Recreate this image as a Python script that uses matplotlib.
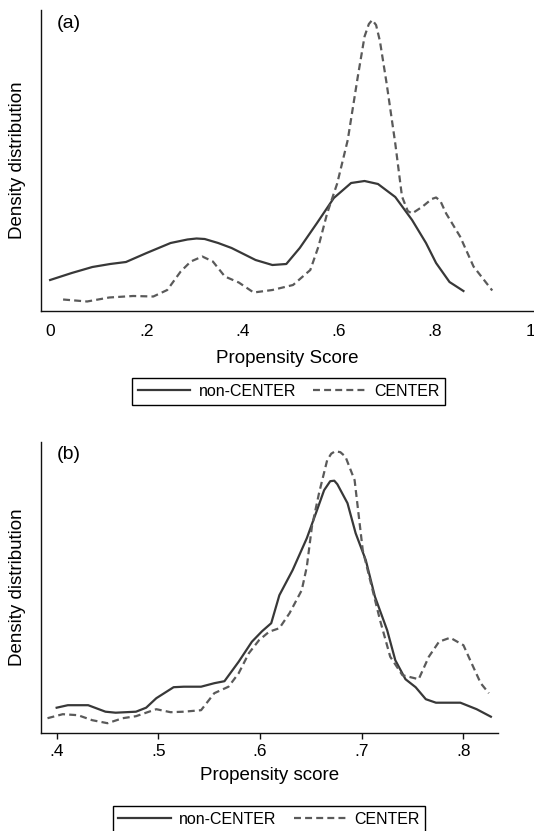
import matplotlib
matplotlib.use("Agg")
import matplotlib.pyplot as plt

plt.rcParams['font.family'] = ['Liberation Sans', 'DejaVu Sans']
plt.rcParams['lines.scale_dashes'] = False

# ---- Panel (a) data: kernel density of propensity score ----
a_non_x = [0.000, 0.045, 0.088, 0.125, 0.158, 0.201, 0.251, 0.286, 0.305, 0.322,
           0.350, 0.378, 0.428, 0.463, 0.492, 0.520, 0.556, 0.591, 0.627, 0.655,
           0.683, 0.719, 0.754, 0.783, 0.804, 0.832, 0.861]
a_non_y = [0.62, 0.76, 0.88, 0.94, 0.98, 1.16, 1.36, 1.43, 1.45, 1.44,
           1.36, 1.26, 1.02, 0.92, 0.94, 1.26, 1.76, 2.26, 2.56, 2.60,
           2.54, 2.28, 1.82, 1.36, 0.96, 0.58, 0.40]
a_cen_x = [0.027, 0.077, 0.123, 0.173, 0.215, 0.244, 0.272, 0.293, 0.317, 0.339,
           0.364, 0.393, 0.424, 0.463, 0.506, 0.542, 0.559, 0.577, 0.598, 0.620,
           0.641, 0.655, 0.664, 0.671, 0.679, 0.687, 0.701, 0.719, 0.733, 0.745,
           0.754, 0.776, 0.795, 0.804, 0.813, 0.825, 0.854, 0.882, 0.921]
a_cen_y = [0.23, 0.19, 0.27, 0.30, 0.29, 0.42, 0.79, 0.99, 1.09, 0.99,
           0.69, 0.57, 0.37, 0.42, 0.52, 0.82, 1.29, 1.95, 2.55, 3.42,
           4.69, 5.49, 5.74, 5.82, 5.72, 5.40, 4.55, 3.35, 2.29, 2.00,
           1.95, 2.09, 2.24, 2.27, 2.20, 1.95, 1.49, 0.89, 0.41]
a_ticks = [0, 0.2, 0.4, 0.6, 0.8, 1.0]
a_ticklabels = ['0', '.2', '.4', '.6', '.8', '1']

# ---- Panel (b) data ----
b_non_x = [0.400, 0.411, 0.431, 0.448, 0.458, 0.478, 0.488, 0.498, 0.515, 0.525,
           0.542, 0.555, 0.565, 0.579, 0.592, 0.602, 0.611, 0.619, 0.632, 0.646,
           0.656, 0.663, 0.669, 0.673, 0.676, 0.686, 0.694, 0.704, 0.713, 0.725,
           0.733, 0.743, 0.753, 0.763, 0.773, 0.797, 0.813, 0.827]
b_non_y = [0.50, 0.55, 0.55, 0.42, 0.40, 0.42, 0.50, 0.69, 0.91, 0.92,
           0.92, 0.99, 1.03, 1.42, 1.82, 2.03, 2.19, 2.75, 3.25, 3.89,
           4.45, 4.85, 5.03, 5.04, 4.97, 4.59, 3.99, 3.45, 2.72, 2.05,
           1.45, 1.07, 0.91, 0.67, 0.60, 0.60, 0.47, 0.32]
b_cen_x = [0.391, 0.406, 0.421, 0.435, 0.450, 0.465, 0.478, 0.498, 0.512, 0.525,
           0.542, 0.555, 0.569, 0.579, 0.589, 0.599, 0.609, 0.619, 0.629, 0.641,
           0.646, 0.651, 0.658, 0.666, 0.670, 0.674, 0.679, 0.684, 0.693, 0.701,
           0.709, 0.718, 0.728, 0.740, 0.756, 0.766, 0.776, 0.787, 0.800, 0.808,
           0.817, 0.825]
b_cen_y = [0.29, 0.37, 0.35, 0.25, 0.19, 0.29, 0.33, 0.47, 0.41, 0.42,
           0.45, 0.79, 0.92, 1.19, 1.59, 1.85, 2.02, 2.09, 2.39, 2.85,
           3.32, 4.12, 4.79, 5.45, 5.58, 5.63, 5.61, 5.52, 5.05, 3.65,
           2.99, 2.25, 1.52, 1.15, 1.07, 1.52, 1.82, 1.90, 1.75, 1.39,
           0.99, 0.79]
b_ticks = [0.4, 0.5, 0.6, 0.7, 0.8]
b_ticklabels = ['.4', '.5', '.6', '.7', '.8']

series_labels = ['non-CENTER', 'CENTER']

W, H = 534, 831
fig = plt.figure(figsize=(W / 100, H / 100), dpi=100)

def frac(l, t, r, b):
    return [l / W, 1 - b / H, (r - l) / W, (b - t) / H]

solid_kw = dict(color='#383838', lw=1.6, solid_joinstyle='round')
dash_kw = dict(color='#5a5a5a', lw=1.6, linestyle=(0, (5, 3)))

def style(ax, ticklen, pad):
    for s in ['top', 'right']:
        ax.spines[s].set_visible(False)
    for s in ['left', 'bottom']:
        ax.spines[s].set_linewidth(1.0)
        ax.spines[s].set_color('#111111')
    ax.set_yticks([])
    ax.tick_params(axis='x', length=ticklen, width=1.0, pad=pad,
                   labelsize=12.5, color='#111111')
    ax.set_ylabel('Density distribution', fontsize=13.5, labelpad=11)

# Panel (a)
ax1 = fig.add_axes(frac(41, 10, 534, 311))
l1, = ax1.plot(a_non_x, a_non_y, **solid_kw)
l2, = ax1.plot(a_cen_x, a_cen_y, **dash_kw)
ax1.set_xlim(-0.019, 1.008)
ax1.set_ylim(0, 6.02)
ax1.set_xticks(a_ticks)
ax1.set_xticklabels(a_ticklabels)
style(ax1, 0, 9)
ax1.set_xlabel('Propensity Score', fontsize=13.5, labelpad=8)
ax1.text(16 / 493, 0.985, '(a)', transform=ax1.transAxes, fontsize=14,
         ha='left', va='top')

fig.legend([l1, l2], series_labels, loc='center', ncol=2,
           bbox_to_anchor=(288.6 / W, 1 - 391.5 / H), fontsize=11.5,
           frameon=True, fancybox=False, edgecolor='black', framealpha=1,
           handlelength=3.3, handletextpad=0.5, columnspacing=1.1,
           borderpad=0.35, borderaxespad=0)

# Panel (b)
ax2 = fig.add_axes(frac(41, 441.7, 498, 732.7))
m1, = ax2.plot(b_non_x, b_non_y, **solid_kw)
m2, = ax2.plot(b_cen_x, b_cen_y, **dash_kw)
ax2.set_xlim(0.3846, 0.834)
ax2.set_ylim(0, 5.82)
ax2.set_xticks(b_ticks)
ax2.set_xticklabels(b_ticklabels)
style(ax2, 4, 4)
ax2.set_xlabel('Propensity score', fontsize=13.5, labelpad=6)
ax2.text(16 / 457, 0.985, '(b)', transform=ax2.transAxes, fontsize=14,
         ha='left', va='top')

fig.legend([m1, m2], series_labels, loc='center', ncol=2,
           bbox_to_anchor=(269 / W, 1 - 819 / H), fontsize=11.5,
           frameon=True, fancybox=False, edgecolor='black', framealpha=1,
           handlelength=3.3, handletextpad=0.5, columnspacing=1.1,
           borderpad=0.35, borderaxespad=0)

fig.savefig('out.png', dpi=100, facecolor='white')
